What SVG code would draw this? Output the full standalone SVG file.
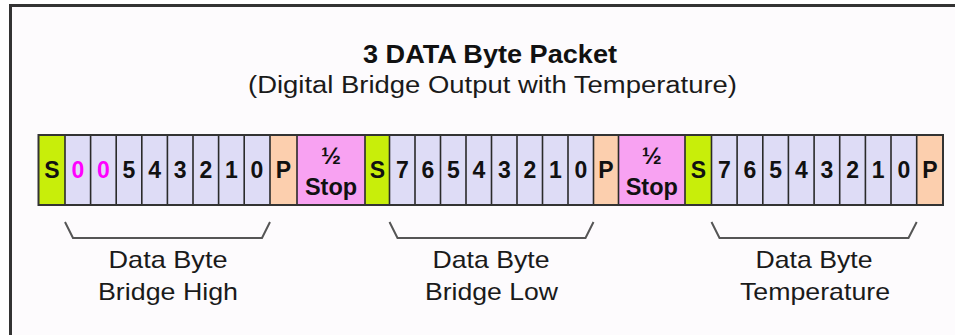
<svg xmlns="http://www.w3.org/2000/svg" width="955" height="335" viewBox="0 0 955 335">
<style>
.bg{fill:#fdfbfd}
.frame{fill:none;stroke:#333;stroke-width:3}
.s{fill:#c8ee0a}
.b{fill:#dedcf6}
.p{fill:#fccfae}
.st{fill:#f8a2f2}
.div{stroke:#2a2a2a;stroke-width:1.6}
.out{fill:none;stroke:#333;stroke-width:2}
.t{font-family:"Liberation Sans",Arial,sans-serif;font-weight:bold;font-size:23px;fill:#111;text-anchor:middle}
.m{fill:#ff00ff}
.half{font-size:24px}
.stop{font-size:23.5px}
.lbl{font-family:"Liberation Sans",Arial,sans-serif;font-size:24px;fill:#1a1a1a;text-anchor:middle}
.title{font-family:"Liberation Sans",Arial,sans-serif;font-weight:bold;font-size:25px;fill:#111;text-anchor:middle}
.sub{font-family:"Liberation Sans",Arial,sans-serif;font-size:23.5px;fill:#1a1a1a;text-anchor:middle}
.brace{fill:none;stroke:#555;stroke-width:2;stroke-linejoin:miter}
</style>
<rect x="0" y="0" width="955" height="335" fill="#ffffff"/>
<rect class="bg" x="10" y="5" width="945" height="330"/>
<path class="frame" d="M10.5,335 V5.5 H955"/>
<g id="title">
<text class="title" x="490" y="63" textLength="254" lengthAdjust="spacingAndGlyphs">3 DATA Byte Packet</text>
<text class="sub" x="492.5" y="93" textLength="489" lengthAdjust="spacingAndGlyphs">(Digital Bridge Output with Temperature)</text>
</g>
<g id="byte1">
<g id="start1"><rect class="s" x="38.5" y="135" width="26.5" height="70"/><text class="t" x="51.8" y="178">S</text></g>
<g id="bits1">
<rect class="b" x="65" y="135" width="205" height="70"/>
<text class="t m" x="77.8" y="178">0</text>
<text class="t m" x="103.4" y="178">0</text>
<text class="t" x="129" y="178">5</text>
<text class="t" x="154.6" y="178">4</text>
<text class="t" x="180.2" y="178">3</text>
<text class="t" x="205.8" y="178">2</text>
<text class="t" x="231.4" y="178">1</text>
<text class="t" x="257" y="178">0</text>
</g>
<g id="parity1"><rect class="p" x="270" y="135" width="27" height="70"/><text class="t" x="283.5" y="178">P</text></g>
</g>
<g id="stop1"><rect class="st" x="297" y="135" width="68" height="70"/><text class="t half" x="331" y="164">½</text><text class="t stop" x="331" y="195">Stop</text></g>
<g id="byte2">
<g id="start2"><rect class="s" x="365" y="135" width="24.5" height="70"/><text class="t" x="377.3" y="178">S</text></g>
<g id="bits2">
<rect class="b" x="389.5" y="135" width="204" height="70"/>
<text class="t" x="402.3" y="178">7</text>
<text class="t" x="427.8" y="178">6</text>
<text class="t" x="453.3" y="178">5</text>
<text class="t" x="478.8" y="178">4</text>
<text class="t" x="504.3" y="178">3</text>
<text class="t" x="529.8" y="178">2</text>
<text class="t" x="555.3" y="178">1</text>
<text class="t" x="580.8" y="178">0</text>
</g>
<g id="parity2"><rect class="p" x="593.5" y="135" width="25" height="70"/><text class="t" x="606" y="178">P</text></g>
</g>
<g id="stop2"><rect class="st" x="618.5" y="135" width="66.5" height="70"/><text class="t half" x="651.8" y="164">½</text><text class="t stop" x="651.8" y="195">Stop</text></g>
<g id="byte3">
<g id="start3"><rect class="s" x="685" y="135" width="26.5" height="70"/><text class="t" x="698.3" y="178">S</text></g>
<g id="bits3">
<rect class="b" x="711.5" y="135" width="205.2" height="70"/>
<text class="t" x="724.3" y="178">7</text>
<text class="t" x="750" y="178">6</text>
<text class="t" x="775.6" y="178">5</text>
<text class="t" x="801.3" y="178">4</text>
<text class="t" x="826.9" y="178">3</text>
<text class="t" x="852.6" y="178">2</text>
<text class="t" x="878.2" y="178">1</text>
<text class="t" x="903.9" y="178">0</text>
</g>
<g id="parity3"><rect class="p" x="916.7" y="135" width="26.3" height="70"/><text class="t" x="929.8" y="178">P</text></g>
</g>
<g id="dividers">
<path class="div" d="M65,135V205 M90.6,135V205 M116.2,135V205 M141.8,135V205 M167.4,135V205 M193,135V205 M218.6,135V205 M244.2,135V205 M270,135V205 M297,135V205 M365,135V205 M389.5,135V205 M415,135V205 M440.5,135V205 M466,135V205 M491.5,135V205 M517,135V205 M542.5,135V205 M568,135V205 M593.5,135V205 M618.5,135V205 M685,135V205 M711.5,135V205 M737.1,135V205 M762.8,135V205 M788.4,135V205 M814.1,135V205 M839.7,135V205 M865.4,135V205 M891,135V205 M916.7,135V205"/>
<rect class="out" x="38.5" y="135" width="904.5" height="70"/>
</g>
<g id="connectors">
<path class="brace" d="M65,222 L73,238 H262 L270,222"/>
<path class="brace" d="M389.5,222 L397.5,238 H585.5 L593.5,222"/>
<path class="brace" d="M711.5,222 L719.5,238 H908.5 L916.7,222"/>
</g>
<g id="label1">
<text class="lbl" x="168" y="268" textLength="119" lengthAdjust="spacingAndGlyphs">Data Byte</text>
<text class="lbl" x="168" y="300" textLength="140" lengthAdjust="spacingAndGlyphs">Bridge High</text>
</g>
<g id="label2">
<text class="lbl" x="491" y="268" textLength="117" lengthAdjust="spacingAndGlyphs">Data Byte</text>
<text class="lbl" x="491.5" y="300" textLength="133" lengthAdjust="spacingAndGlyphs">Bridge Low</text>
</g>
<g id="label3">
<text class="lbl" x="814" y="268" textLength="117" lengthAdjust="spacingAndGlyphs">Data Byte</text>
<text class="lbl" x="815" y="300" textLength="150" lengthAdjust="spacingAndGlyphs">Temperature</text>
</g>
</svg>
